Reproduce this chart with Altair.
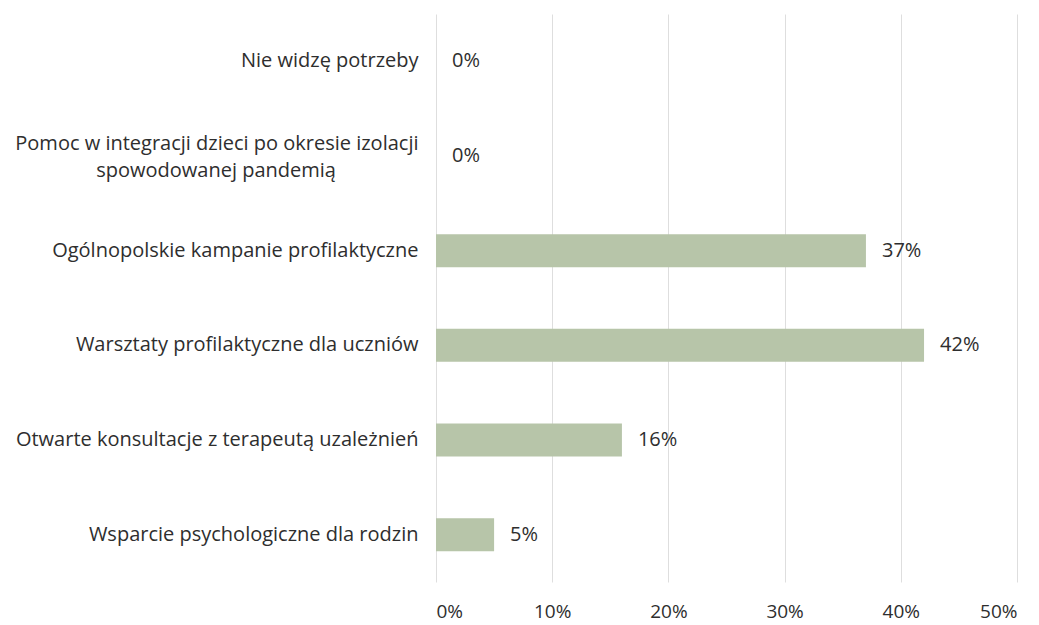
import altair as alt
import pandas as pd

categories = [
    "Nie widzę potrzeby",
    "Pomoc w integracji dzieci po okresie izolacji|spowodowanej pandemią",
    "Ogólnopolskie kampanie profilaktyczne",
    "Warsztaty profilaktyczne dla uczniów",
    "Otwarte konsultacje z terapeutą uzależnień",
    "Wsparcie psychologiczne dla rodzin",
]
values = [0.0, 0.0, 0.37, 0.42, 0.16, 0.05]
x_ticks = [0, 0.1, 0.2, 0.3, 0.4, 0.5]

df = pd.DataFrame({"cat": categories, "val": values})
df["lbl"] = [f"{round(v*100)}%" for v in values]

FONT = "Open Sans"
TXT = "#2e2e2e"
PAD = "\u00a0" * 13 + "\u2800"

label_expr = (
    "indexof(datum.value, '|') >= 0 ? "
    "[split(datum.value, '|')[0], split(datum.value, '|')[1] + '" + PAD + "'] : datum.value"
)

y_enc = alt.Y(
    "cat:N",
    sort=categories,
    axis=alt.Axis(
        title=None,
        domain=False,
        ticks=False,
        labelPadding=18,
        labelFont=FONT,
        labelFontSize=20,
        labelColor=TXT,
        labelLimit=600,
        labelExpr=label_expr,
        labelLineHeight=27,
        labelOffset={"condition": {"test": "indexof(datum.value, '|') >= 0", "value": -12}, "value": 0},
    ),
)
x_enc = alt.X(
    "val:Q",
    scale=alt.Scale(domain=[0, 0.5], nice=False),
    axis=alt.Axis(
        title=None,
        values=x_ticks,
        format=".0%",
        domain=False,
        ticks=False,
        grid=True,
        gridColor="#dedede",
        gridWidth=1,
        labelPadding=20,
        labelFont=FONT,
        labelFontSize=19,
        labelColor=TXT,
    ),
)

bars = alt.Chart(df).mark_bar(size=33, color="#b7c5a9").encode(x=x_enc, y=y_enc)
text = alt.Chart(df).mark_text(
    align="left", baseline="middle", dx=16, font=FONT, fontSize=20, color=TXT
).encode(x="val:Q", y=alt.Y("cat:N", sort=categories), text="lbl:N")

chart = (
    (bars + text)
    .properties(
        width=581,
        height=568,
        autosize=alt.AutoSizeParams(type="none"),
        padding={"left": 428, "top": 6, "right": 14, "bottom": 50},
    )
    .configure_view(stroke=None)
)

chart.save("out.html", embed_options={"renderer": "svg", "actions": False})
